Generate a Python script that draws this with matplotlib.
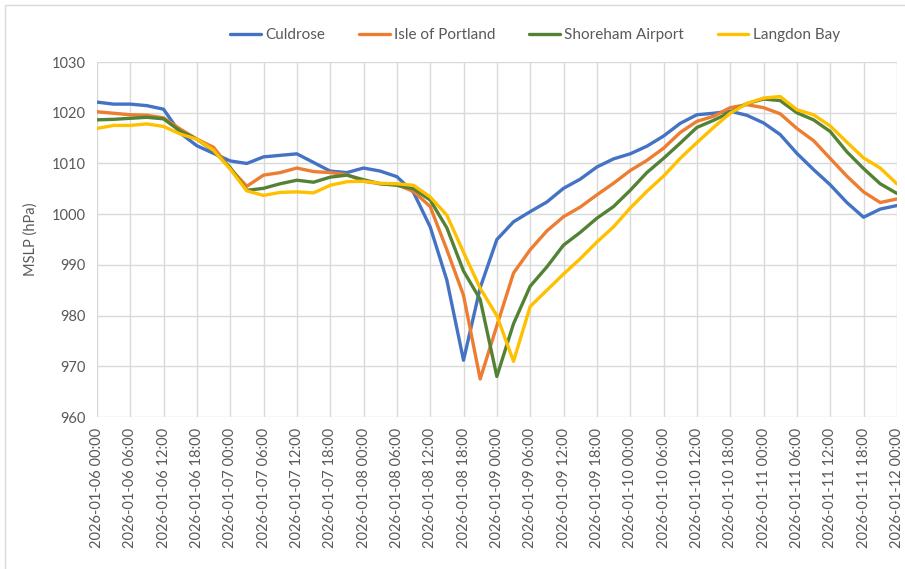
import matplotlib
matplotlib.use("Agg")
import matplotlib.pyplot as plt
import matplotlib.dates as mdates
import pandas as pd

# 3-hourly MSLP readings (hPa), 2026-01-06 00:00 to 2026-01-12 00:00
times = pd.date_range("2026-01-06 00:00", "2026-01-12 00:00", freq="3h")

culdrose = [1022.1, 1021.7, 1021.7, 1021.4, 1020.7, 1016.0, 1013.5, 1012.0,
            1010.5, 1010.0, 1011.3, 1011.6, 1011.9, 1010.2, 1008.5, 1008.2,
            1009.1, 1008.5, 1007.4, 1004.3, 997.5, 987.0, 971.2, 985.5,
            995.0, 998.5, 1000.5, 1002.4, 1005.1, 1006.9, 1009.3, 1010.9,
            1011.9, 1013.4, 1015.4, 1017.9, 1019.6, 1019.9, 1020.3, 1019.5,
            1018.0, 1015.7, 1012.0, 1008.8, 1005.8, 1002.3, 999.4, 1001.0,
            1001.7]
portland = [1020.2, 1019.9, 1019.6, 1019.5, 1019.0, 1016.8, 1014.8, 1013.2,
            1009.0, 1005.5, 1007.7, 1008.2, 1009.1, 1008.4, 1008.2, 1007.8,
            1006.5, 1006.0, 1005.8, 1004.5, 1001.5, 993.0, 984.0, 967.5,
            978.0, 988.4, 993.0, 996.7, 999.5, 1001.4, 1003.8, 1006.1,
            1008.6, 1010.6, 1013.0, 1016.1, 1018.3, 1019.3, 1021.0, 1021.6,
            1021.0, 1019.8, 1016.9, 1014.5, 1011.0, 1007.5, 1004.4, 1002.3,
            1003.0]
shoreham = [1018.6, 1018.7, 1018.9, 1019.1, 1018.8, 1016.4, 1014.8, 1012.5,
            1009.2, 1004.7, 1005.1, 1006.0, 1006.7, 1006.3, 1007.3, 1007.7,
            1006.8, 1006.0, 1005.7, 1005.0, 1002.8, 997.3, 988.8, 983.2,
            968.0, 978.4, 985.8, 989.6, 993.9, 996.4, 999.2, 1001.5,
            1004.7, 1008.2, 1011.0, 1014.0, 1017.1, 1018.5, 1020.1, 1021.8,
            1022.7, 1022.4, 1020.0, 1018.6, 1016.3, 1012.3, 1009.0, 1006.0,
            1004.1]
langdon = [1016.9, 1017.5, 1017.5, 1017.8, 1017.3, 1015.8, 1014.8, 1012.6,
           1008.9, 1004.6, 1003.7, 1004.3, 1004.4, 1004.2, 1005.7, 1006.4,
           1006.5, 1006.1, 1006.0, 1005.7, 1003.4, 999.8, 992.5, 985.4,
           980.0, 971.0, 981.8, 985.0, 988.2, 991.2, 994.5, 997.5,
           1001.2, 1004.5, 1007.5, 1011.0, 1014.1, 1017.1, 1019.9, 1021.8,
           1022.9, 1023.2, 1020.6, 1019.6, 1017.4, 1014.2, 1011.1, 1009.1,
           1006.0]

names = ["Culdrose", "Isle of Portland", "Shoreham Airport", "Langdon Bay"]
colors = ["#4472C4", "#ED7D31", "#548235", "#FFC000"]

plt.rcParams['font.family'] = ['Lato', 'DejaVu Sans']
txt = '#595959'

fig = plt.figure(figsize=(9.05, 5.69), dpi=100)
ax = fig.add_axes([0.107, 0.267, 0.884, 0.624])

for vals, name, c in zip([culdrose, portland, shoreham, langdon], names, colors):
    ax.plot(times, vals, color=c, lw=2.4, label=name, solid_capstyle='round')

ax.set_ylim(960, 1030)
ax.set_yticks(range(960, 1031, 10))
ax.set_xlim(times[0], times[-1])
ax.xaxis.set_major_locator(mdates.HourLocator(byhour=[0, 6, 12, 18]))
ax.xaxis.set_major_formatter(mdates.DateFormatter('%Y-%m-%d %H:%M'))
plt.setp(ax.get_xticklabels(), rotation=90)

ax.grid(color='#d9d9d9', lw=1)
ax.set_axisbelow(True)
for s in ax.spines.values():
    s.set_visible(False)
ax.tick_params(length=0, labelsize=10.5, colors=txt, pad=8)
ax.set_ylabel('MSLP (hPa)', fontsize=10.5, color=txt, labelpad=10)

leg = ax.legend(loc='center', bbox_to_anchor=(0.548, 1.076), ncol=4, frameon=False,
                fontsize=11, handlelength=2.0, handletextpad=0.3, columnspacing=2.2)
for t in leg.get_texts():
    t.set_color(txt)

# chart area frame
fig.patches.append(plt.Rectangle((0.006, -0.01), 1.0, 1.0 - 0.006 + 0.01 - 0.002,
                                 transform=fig.transFigure, fill=False,
                                 edgecolor='#d9d9d9', lw=1))

plt.savefig('out.png', dpi=100)
